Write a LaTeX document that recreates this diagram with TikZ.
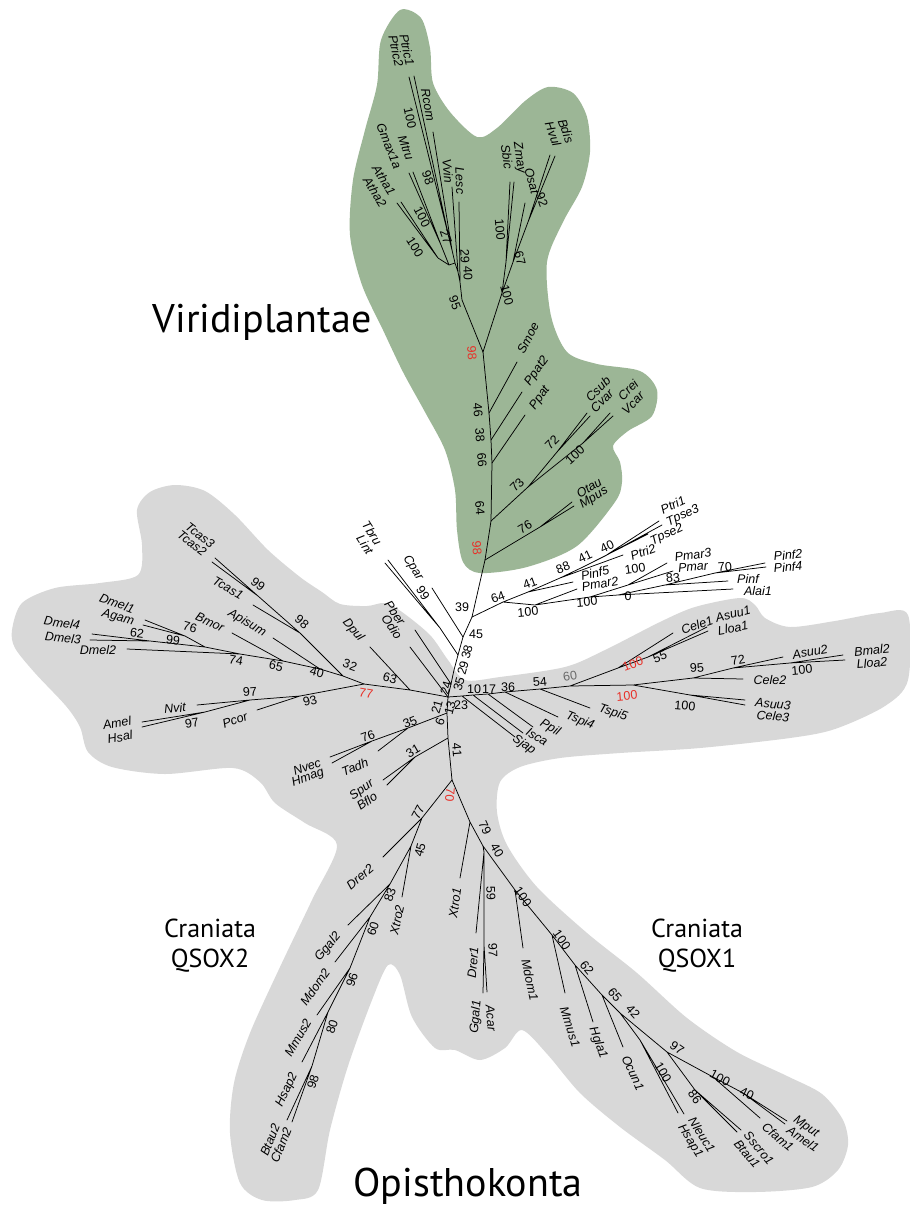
\documentclass[tikz,border=0pt]{standalone}
\usepackage{fontspec}
\setmainfont{Liberation Sans}
\newfontfamily\bigfont{PT Sans}
\definecolor{vgreen}{RGB}{156,182,150}
\definecolor{ogrey}{RGB}{216,216,216}
\definecolor{bred}{RGB}{232,48,40}
\definecolor{bgrey}{RGB}{105,105,105}
\newcommand\LF[4]{\node[lf,rotate=#3] (L#1) at (#2) {#4};}
\newcommand\BS[4]{\node[bs,rotate=#3] (B#1) at (#2) {#4};}
\newcommand\RB[4]{\node[bs,text=bred,rotate=#3] (R#1) at (#2) {#4};}
\newcommand\CO[2]{\coordinate (#1) at (#2);}
\begin{document}
\begin{tikzpicture}[x=1pt,y=-1pt,
  br/.style={line width=0.75pt,line cap=round},
  lf/.style={font=\fontsize{12.5}{13}\selectfont\itshape,inner sep=0pt},
  bs/.style={font=\fontsize{12.5}{13}\selectfont,inner sep=0pt},
  big/.style={font=\bigfont\fontsize{40}{44}\selectfont,inner sep=0pt,anchor=base},
  mid/.style={font=\bigfont\fontsize{26}{30}\selectfont,inner sep=0pt,anchor=base}]
\useasboundingbox (0,0) rectangle (910,1208);
\fill[white] (0,0) rectangle (910,1208);
% ---------- background shapes ----------
\fill[ogrey] plot[smooth cycle,tension=0.5] coordinates {
(12,630) (22,603) (55,588) (100,583) (138,575) (142,545) (137,510) (150,492) (175,485) (205,491) (235,515) (268,550) (300,577) (322,592) (340,604) (367,606) (385,603) (402,612) (430,635) (448,660) (465,680) (500,677) (565,667) (605,650) (660,622) (695,607) (740,598) (755,605) (765,618) (790,627) (835,621) (880,613) (908,615) (908,680) (885,706) (835,729) (790,738) (700,748) (620,753) (560,758) (520,767) (500,782) (497,812) (507,845) (537,887) (587,933) (637,973) (687,1018) (737,1052) (787,1076) (822,1094) (843,1120) (848,1145) (838,1170) (812,1187) (755,1192) (700,1188) (665,1160) (620,1127) (580,1093) (548,1055) (522,1030) (505,1048) (480,1060) (455,1050) (435,1048) (412,1017) (400,975) (388,965) (372,1000) (348,1066) (330,1130) (318,1190) (295,1200) (262,1200) (240,1183) (230,1133) (234,1083) (250,1033) (280,967) (312,900) (337,845) (305,823) (275,803) (260,782) (233,768) (165,774) (112,767) (88,752) (80,727) (66,706) (35,673) (15,648)};
\fill[vgreen] plot[smooth cycle,tension=0.5] coordinates {
(400,10) (421,18) (430,48) (433,83) (450,112) (477,137) (497,128) (525,101) (548,87) (573,93) (587,117) (590,152) (582,187) (563,222) (547,262) (551,316) (567,352) (597,364) (640,371) (657,390) (652,416) (628,431) (613,446) (620,462) (622,482) (615,502) (577,546) (527,567) (480,573) (463,562) (457,530) (455,490) (445,450) (425,412) (403,372) (383,330) (362,285) (350,235) (353,180) (365,130) (377,85) (381,40)};
% ---------- coordinates ----------
\CO{c0}{448,697}\CO{t35}{451,684}\CO{t29}{454,670}\CO{t38}{458,655}\CO{t45}{463,637}\CO{t39}{472,617}
\CO{g98}{485,560}\CO{g64}{491,521}\CO{g66}{492,463}\CO{g38}{491,440}\CO{g46}{489,413}\CO{g98t}{483,352}
\CO{smoe}{517,362}\CO{ppat2}{522,392}\CO{ppat}{525,415}
\CO{g73}{528,487}\CO{g72}{557,452}\CO{csub}{587,413}\CO{cvar}{590,416}\CO{g100c}{583,443}\CO{crei}{610,413}\CO{vcar}{613,416}
\CO{g76}{540,527}\CO{otau}{572,502}\CO{mpus}{574,506}
\CO{g95}{462,300}\CO{g40}{460,282}\CO{lesc}{459,202}\CO{g29}{458,272}\CO{vvin}{452,187}\CO{g27}{455,263}
\CO{gPR}{452,250}\CO{rcom}{433,132}\CO{gPt}{449,238}\CO{ptric1}{414,76}\CO{ptric2}{409,77}
\CO{gMA}{449,265}\CO{gMG}{441,245}\CO{mtru}{413,172}\CO{gmax}{409,173}\CO{gAt}{438,258}\CO{atha1}{401,202}\CO{atha2}{397,203}
\CO{gm100}{502,293}\CO{gSZ}{506,262}\CO{sbic}{510,182}\CO{zmay}{514,182}\CO{g67}{513,262}\CO{osat}{525,203}\CO{g92}{528,222}\CO{hvul}{550,155}\CO{bdis}{555,156}
\CO{kTL}{440,628}\CO{tbru}{388,560}\CO{lint}{385,563}\CO{cpar}{432,588}\CO{pber}{415,630}\CO{odio}{410,647}
\CO{a63}{410,690}\CO{dpul}{370,647}\CO{a77}{364,684}\CO{a32}{343,676}\CO{a40}{320,669}\CO{a65}{283,661}\CO{a74}{240,654}
\CO{dmel2}{127,649}\CO{a99}{205,647}\CO{a62}{150,641}\CO{dmel4}{92,634}\CO{dmel3}{90,640}\CO{a76}{185,636}\CO{dmel1}{145,620}\CO{agam}{143,625}
\CO{bmor}{232,633}\CO{apisum}{273,638}\CO{a98}{300,633}\CO{tcas1}{253,605}\CO{a99t}{258,596}\CO{tcas3}{215,558}\CO{tcas2}{212,562}
\CO{a93}{300,696}\CO{pcor}{257,710}\CO{a97}{250,700}\CO{nvit}{197,705}\CO{a97b}{205,712}\CO{amel}{142,722}\CO{hsal}{142,727}
\CO{s6}{447,713}\CO{s31}{448,738}\CO{r70}{452,780}\CO{l35}{408,728}\CO{l76}{372,741}\CO{nvec}{330,757}\CO{hmag}{332,763}\CO{tadh}{378,751}
\CO{l31}{415,757}\CO{spur}{383,780}\CO{bflo}{387,785}
\CO{q77}{422,818}\CO{drer2}{383,857}\CO{q45}{411,846}\CO{xtro2}{402,897}\CO{q83}{390,884}\CO{ggal2}{348,925}\CO{q60}{370,917}\CO{mdom2}{335,962}
\CO{q96}{350,968}\CO{mmus2}{317,1015}\CO{q80}{328,1012}\CO{hsap2}{302,1062}\CO{q98}{312,1066}\CO{btau2}{287,1120}\CO{cfam2}{292,1122}
\CO{q79}{470,822}\CO{xtro1}{460,878}\CO{q40}{483,846}\CO{q59}{484,852}\CO{drer1}{476,933}\CO{q97}{484,945}\CO{ggal1}{483,993}\CO{acar}{487,992}
\CO{q100a}{515,890}\CO{mdom1}{523,948}\CO{q100b}{552,935}\CO{mmus1}{565,993}\CO{q62}{575,965}\CO{hgla1}{593,1022}\CO{q65}{602,995}\CO{ocun1}{623,1047}
\CO{q42}{620,1013}\CO{q100c}{640,1040}\CO{hsap1}{678,1113}\CO{nleuc1}{684,1114}\CO{q97b}{667,1052}\CO{q86}{695,1090}\CO{btau1}{737,1132}\CO{sscro1}{741,1130}
\CO{q100d}{713,1077}\CO{cfam1}{760,1118}\CO{q40b}{743,1093}\CO{mput}{787,1121}\CO{amel1}{785,1124}
\CO{r23}{462,696}\CO{r10}{473,695}\CO{r17}{488,694}\CO{r36}{505,692}\CO{r54}{540,689}\CO{r60}{570,686}
\CO{sjap}{515,737}\CO{isca}{523,733}\CO{ppil}{533,727}\CO{tspi4}{558,717}\CO{tspi5}{590,708}
\CO{rU100}{618,668}\CO{cele1}{673,633}\CO{r55}{648,657}\CO{asuu1}{707,627}\CO{lloa1}{708,631}
\CO{rL100}{633,685}\CO{r95}{693,678}\CO{cele2}{743,679}\CO{r72}{733,668}\CO{asuu2}{783,657}\CO{r100r}{790,663}\CO{bmal2}{843,655}\CO{lloa2}{845,660}
\CO{r100d}{690,695}\CO{asuu3}{745,700}\CO{cele3}{745,705}
\CO{p64}{503,602}\CO{p41}{528,592}\CO{p88}{560,578}\CO{p41b}{583,567}\CO{p40}{605,556}\CO{ptri1}{659,521}\CO{tpse3}{662,525}\CO{tpse2}{648,534}\CO{ptri2}{623,555}\CO{pinf5}{573,582}
\CO{p100}{535,605}\CO{pmar2}{577,589}\CO{pX}{590,597}\CO{pPm}{628,585}\CO{pmar3}{667,563}\CO{pmar}{673,571}
\CO{p0}{618,595}\CO{alai1}{733,589}\CO{p83}{665,585}\CO{pinf}{728,581}\CO{p70}{715,573}\CO{pinf2}{765,563}\CO{pinf4}{766,567}
% ---------- branches ----------
\draw[br] (c0)--(t35)--(t29)--(t38)--(t45)--(t39)--(g98)--(g64)--(g66)--(g38)--(g46)--(g98t);
\draw[br] (g46)--(smoe) (g38)--(ppat2) (g66)--(ppat);
\draw[br] (g64)--(g73) (g73)--(g72) (g72)--(csub) (g72)--(cvar) (g73)--(g100c) (g100c)--(crei) (g100c)--(vcar);
\draw[br] (g98)--(g76) (g76)--(otau) (g76)--(mpus);
\draw[br] (g98t)--(g95)--(g40)--(g29)--(g27)--(gPR)--(gPt) (gPR)--(rcom) (gPt)--(ptric1) (gPt)--(ptric2) (g40)--(lesc) (g29)--(vvin) (g27)--(gMA) (gMA)--(gMG) (gMG)--(mtru) (gMG)--(gmax) (gMA)--(gAt) (gAt)--(atha1) (gAt)--(atha2);
\draw[br] (g98t)--(gm100) (gm100)--(gSZ) (gSZ)--(sbic) (gSZ)--(zmay) (gm100)--(g67) (g67)--(osat) (g67)--(g92) (g92)--(hvul) (g92)--(bdis);
\draw[br] (t38)--(kTL) (kTL)--(tbru) (kTL)--(lint) (t45)--(cpar) (t35)--(pber) (c0)--(odio);
\draw[br] (c0)--(a63)--(a77)--(a32)--(a40)--(a65)--(a74)--(dmel2) (a63)--(dpul) (a74)--(a99)--(a62) (a62)--(dmel4) (a62)--(dmel3) (a99)--(a76) (a76)--(dmel1) (a76)--(agam) (a65)--(bmor) (a40)--(apisum) (a32)--(a98)--(a99t) (a98)--(tcas1) (a99t)--(tcas3) (a99t)--(tcas2);
\draw[br] (a77)--(a93)--(a97)--(a97b) (a93)--(pcor) (a97)--(nvit) (a97b)--(amel) (a97b)--(hsal);
\draw[br] (c0)--(s6)--(s31)--(r70) (s6)--(l35)--(l76) (l76)--(nvec) (l76)--(hmag) (l35)--(tadh) (s31)--(l31) (l31)--(spur) (l31)--(bflo);
\draw[br] (r70)--(q77)--(q45)--(q83)--(q60)--(q96)--(q80)--(q98) (q77)--(drer2) (q45)--(xtro2) (q83)--(ggal2) (q60)--(mdom2) (q96)--(mmus2) (q80)--(hsap2) (q98)--(btau2) (q98)--(cfam2);
\draw[br] (r70)--(q79)--(q40)--(q100a)--(q100b)--(q62)--(q65)--(q42)--(q97b)--(q100d)--(q40b) (q79)--(xtro1) (q40)--(q59) (q59)--(drer1) (q59)--(q97) (q97)--(ggal1) (q97)--(acar) (q100a)--(mdom1) (q100b)--(mmus1) (q62)--(hgla1) (q65)--(ocun1) (q42)--(q100c) (q100c)--(hsap1) (q100c)--(nleuc1) (q97b)--(q86) (q86)--(btau1) (q86)--(sscro1) (q100d)--(cfam1) (q40b)--(mput) (q40b)--(amel1);
\draw[br] (c0)--(r23)--(r10)--(r17)--(r36)--(r54)--(r60)--(rL100)--(r95)--(r72)--(r100r) (r23)--(sjap) (r10)--(isca) (r17)--(ppil) (r36)--(tspi4) (r54)--(tspi5) (r60)--(rU100)--(cele1) (rU100)--(r55) (r55)--(asuu1) (r55)--(lloa1) (r95)--(cele2) (r72)--(asuu2) (r100r)--(bmal2) (r100r)--(lloa2) (rL100)--(r100d) (r100d)--(asuu3) (r100d)--(cele3);
\draw[br] (t39)--(p64)--(p41)--(p88)--(p41b)--(p40) (p40)--(ptri1) (p40)--(tpse3) (p41b)--(tpse2) (p88)--(ptri2) (p41)--(pinf5) (p64)--(p100)--(pX)--(pPm) (p100)--(pmar2) (pPm)--(pmar3) (pPm)--(pmar) (pX)--(p0)--(p83)--(p70) (p0)--(alai1) (p83)--(pinf) (p70)--(pinf2) (p70)--(pinf4);
% ---------- leaf labels ----------
\LF{ptric1}{407,50}{-78}{Ptric1}\LF{ptric2}{396,51}{-78}{Ptric2}\LF{rcom}{428,105}{-80}{Rcom}
\LF{mtru}{406,148}{-70}{Mtru}\LF{gmax}{389,146}{-68}{Gmax1a}\LF{atha1}{384,180}{-58}{Atha1}\LF{atha2}{375,192}{-58}{Atha2}
\LF{vvin}{448,171}{-85}{Vvin}\LF{lesc}{460,181}{-88}{Lesc}\LF{sbic}{507,157}{-82}{Sbic}\LF{zmay}{519,158}{-82}{Zmay}
\LF{osat}{532,181}{-75}{Osat}\LF{hvul}{553,134}{-70}{Hvul}\LF{bdis}{566,131}{-70}{Bdis}
\LF{smoe}{528,338}{62}{Smoe}\LF{ppat2}{537,371}{55}{Ppat2}\LF{ppat}{540,398}{55}{Ppat}
\LF{csub}{598,389}{45}{Csub}\LF{cvar}{602,401}{45}{Cvar}\LF{crei}{628,390}{45}{Crei}\LF{vcar}{633,403}{45}{Vcar}
\LF{otau}{589,488}{32}{Otau}\LF{mpus}{594,498}{32}{Mpus}
\LF{tbru}{372,533}{-57}{Tbru}\LF{lint}{365,545}{-57}{Lint}\LF{cpar}{413,568}{-58}{Cpar}
\LF{pber}{395,613}{-55}{Pber}\LF{odio}{392,627}{-55}{Odio}\LF{dpul}{353,630}{-50}{Dpul}
\LF{tcas3}{200,535}{-38}{Tcas3}\LF{tcas2}{192,543}{-38}{Tcas2}\LF{tcas1}{228,588}{-30}{Tcas1}
\LF{apisum}{247,623}{-30}{Apisum}\LF{bmor}{210,622}{-25}{Bmor}\LF{dmel1}{117,603}{-20}{Dmel1}\LF{agam}{118,618}{-15}{Agam}
\LF{dmel4}{62,623}{-8}{Dmel4}\LF{dmel3}{63,638}{-5}{Dmel3}\LF{dmel2}{98,650}{0}{Dmel2}
\LF{nvit}{175,708}{5}{Nvit}\LF{amel}{117,723}{10}{Amel}\LF{hsal}{120,737}{10}{Hsal}\LF{pcor}{235,720}{20}{Pcor}
\LF{nvec}{307,767}{20}{Nvec}\LF{hmag}{308,778}{20}{Hmag}\LF{tadh}{355,767}{22}{Tadh}\LF{spur}{362,790}{35}{Spur}\LF{bflo}{367,801}{35}{Bflo}
\LF{drer2}{360,877}{40}{Drer2}\LF{xtro2}{397,920}{78}{Xtro2}\LF{ggal2}{328,947}{50}{Ggal2}\LF{mdom2}{315,987}{55}{Mdom2}
\LF{mmus2}{298,1038}{60}{Mmus2}\LF{hsap2}{287,1090}{65}{Hsap2}\LF{btau2}{270,1140}{68}{Btau2}\LF{cfam2}{281,1145}{68}{Cfam2}
\LF{xtro1}{455,903}{82}{Xtro1}\LF{drer1}{473,963}{85}{Drer1}\LF{ggal1}{476,1017}{85}{Ggal1}\LF{acar}{491,1018}{-85}{Acar}
\LF{mdom1}{530,980}{-78}{Mdom1}\LF{mmus1}{570,1027}{-72}{Mmus1}\LF{hgla1}{598,1043}{-70}{Hgla1}\LF{ocun1}{633,1073}{-65}{Ocun1}
\LF{nleuc1}{702,1135}{-58}{Nleuc1}\LF{hsap1}{690,1141}{-58}{Hsap1}\LF{sscro1}{759,1148}{-50}{Sscro1}\LF{btau1}{747,1154}{-50}{Btau1}
\LF{cfam1}{778,1137}{-40}{Cfam1}\LF{mput}{806,1127}{-35}{Mput}\LF{amel1}{803,1139}{-35}{Amel1}
\LF{cele1}{697,625}{20}{Cele1}\LF{asuu1}{733,614}{15}{Asuu1}\LF{lloa1}{733,628}{10}{Lloa1}
\LF{asuu2}{810,652}{10}{Asuu2}\LF{bmal2}{872,650}{5}{Bmal2}\LF{lloa2}{872,663}{5}{Lloa2}\LF{cele2}{770,680}{0}{Cele2}
\LF{asuu3}{773,704}{-5}{Asuu3}\LF{cele3}{773,716}{-5}{Cele3}
\LF{tspi5}{613,713}{-18}{Tspi5}\LF{tspi4}{580,721}{-22}{Tspi4}\LF{ppil}{550,728}{-30}{Ppil}\LF{isca}{537,737}{-32}{Isca}\LF{sjap}{524,745}{-35}{Sjap}
\LF{ptri1}{673,505}{25}{Ptri1}\LF{tpse3}{683,516}{25}{Tpse3}\LF{tpse2}{667,535}{25}{Tpse2}\LF{ptri2}{643,552}{20}{Ptri2}
\LF{pinf5}{595,573}{12}{Pinf5}\LF{pmar2}{600,584}{10}{Pmar2}\LF{pmar3}{693,555}{8}{Pmar3}\LF{pmar}{693,567}{5}{Pmar}
\LF{pinf2}{788,555}{5}{Pinf2}\LF{pinf4}{788,567}{5}{Pinf4}\LF{pinf}{748,579}{0}{Pinf}\LF{alai1}{758,591}{0}{Alai1}
% ---------- bootstrap values ----------
\BS{1}{476,634}{0}{45}\BS{2}{462,607}{0}{39}\BS{3}{467,652}{75}{38}\BS{4}{463,668}{75}{29}\BS{5}{459,684}{75}{35}
\BS{6}{446,688}{75}{24}\BS{7}{437,707}{75}{21}\BS{8}{450,708}{75}{13}\BS{9}{440,722}{70}{6}
\BS{10}{474,689}{0}{10}\BS{11}{489,689}{0}{17}\BS{12}{508,687}{0}{36}\BS{13}{461,705}{0}{23}\BS{14}{540,682}{5}{54}
\node[bs,text=bgrey,rotate=10] (B15) at (570,676) {60};
\BS{16}{457,750}{-85}{41}\RB{1}{450,795}{-95}{70}
\RB{2}{472,353}{-85}{98}\BS{17}{478,410}{-85}{46}\BS{18}{480,435}{-85}{38}\BS{19}{482,460}{-85}{66}\BS{20}{480,508}{-85}{64}\RB{3}{477,548}{-85}{98}
\BS{21}{517,485}{45}{73}\BS{22}{552,442}{45}{72}\BS{23}{575,455}{42}{100}\BS{24}{525,527}{30}{76}
\BS{25}{455,303}{-70}{95}\BS{26}{468,273}{-88}{40}\BS{27}{465,256}{-88}{29}\BS{28}{446,237}{-70}{27}
\BS{29}{410,118}{-78}{100}\BS{30}{428,178}{-70}{98}\BS{31}{422,217}{-62}{100}\BS{32}{415,247}{-58}{100}
\BS{33}{507,295}{-75}{100}\BS{34}{500,230}{-85}{100}\BS{35}{520,258}{-75}{67}\BS{36}{542,200}{-70}{92}
\BS{37}{423,593}{-57}{99}
\RB{4}{366,693}{-10}{77}\BS{38}{390,678}{-15}{63}\BS{39}{350,665}{-20}{32}\BS{40}{317,672}{-15}{40}\BS{41}{276,666}{-12}{65}\BS{42}{236,660}{-10}{74}
\BS{43}{190,627}{-15}{76}\BS{44}{137,633}{-8}{62}\BS{45}{173,640}{-8}{99}\BS{46}{258,584}{-38}{99}\BS{47}{302,622}{-40}{98}
\BS{48}{310,701}{15}{93}\BS{49}{250,692}{5}{97}\BS{50}{192,723}{10}{97}
\BS{51}{410,722}{22}{35}\BS{52}{368,736}{20}{76}\BS{53}{413,751}{30}{31}
\BS{54}{418,812}{62}{77}\BS{55}{420,850}{75}{45}\BS{56}{390,895}{72}{83}\BS{57}{373,929}{72}{60}\BS{58}{352,980}{72}{96}\BS{59}{332,1027}{72}{80}\BS{60}{313,1082}{72}{98}
\BS{61}{485,828}{-65}{79}\BS{62}{497,850}{-60}{40}\BS{63}{491,893}{-88}{59}\BS{64}{493,950}{-88}{97}
\BS{65}{523,897}{-55}{100}\BS{66}{562,940}{-55}{100}\BS{67}{587,968}{-50}{62}\BS{68}{615,995}{-50}{65}\BS{69}{633,1012}{-48}{42}
\BS{70}{663,1072}{-60}{100}\BS{71}{677,1048}{-35}{97}\BS{72}{695,1097}{-55}{86}\BS{73}{720,1078}{-28}{100}\BS{74}{747,1094}{-25}{40}
\RB{5}{633,664}{20}{100}\RB{6}{627,696}{5}{100}\BS{75}{660,657}{20}{55}\BS{76}{697,668}{5}{95}\BS{77}{738,660}{10}{72}\BS{78}{802,670}{5}{100}\BS{79}{685,706}{-5}{100}
\BS{80}{498,597}{20}{64}\BS{81}{530,583}{20}{41}\BS{82}{563,568}{22}{88}\BS{83}{585,557}{25}{41}\BS{84}{607,547}{25}{40}
\BS{85}{528,612}{5}{100}\BS{86}{587,602}{5}{100}\BS{87}{635,569}{8}{100}\BS{88}{673,578}{5}{83}\BS{89}{725,567}{5}{70}\BS{90}{628,596}{0}{0}
% ---------- group names ----------
\node[big] (viri) at (262,332) {Viridiplantae};
\node[mid] (cq2a) at (210,937) {Craniata};
\node[mid] (cq2b) at (210,967) {QSOX2};
\node[mid] (cq1a) at (697,937) {Craniata};
\node[mid] (cq1b) at (697,967) {QSOX1};
\node[big] (opis) at (468,1196) {Opisthokonta};
\end{tikzpicture}
\end{document}
